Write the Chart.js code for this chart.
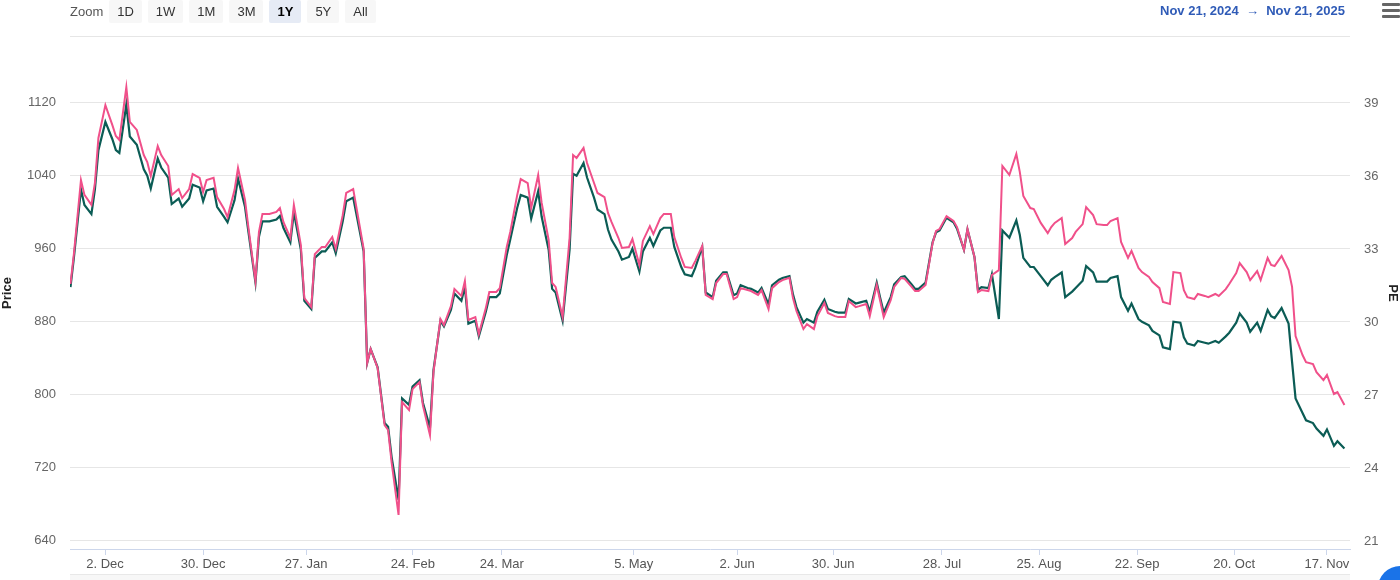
<!DOCTYPE html>
<html>
<head>
<meta charset="utf-8">
<script src="https://cdn.jsdelivr.net/npm/chart.js@4"></script>
<style>
  body { margin: 0; width: 1400px; height: 580px; overflow: hidden; background: #fff; font-family: "Liberation Sans", Arial, sans-serif; }
  #wrap { position: absolute; left: 0; top: 0; width: 1400px; height: 580px; }
  #bar { position: absolute; left: 70px; top: 0; font-size: 13px; color: #555; display: flex; align-items: center; }
  #bar .lbl { margin-right: 6px; }
  #bar .btn { background: #f7f7f7; border-radius: 2px; padding: 4px 8px; margin-right: 6px; color: #333; }
  #bar .sel { background: #e6ebf5; font-weight: bold; color: #000; }
  #range { position: absolute; right: 55px; top: 3px; font-size: 13px; font-weight: bold; color: #2f5bb7; }
  #menu { position: absolute; right: 0; top: 3px; width: 18px; }
  #menu div { height: 3px; background: #666; margin-bottom: 3px; border-radius: 1px; }
  #line { position: absolute; left: 70px; top: 36px; width: 1280px; height: 1px; background: #e6e6e6; }
  #nav { position: absolute; left: 70px; top: 574px; width: 1280px; height: 6px; background: #f7f7f7; border-top: 1px solid #e8e8e8; }
  #dot { position: absolute; left: 1378px; top: 566px; width: 44px; height: 44px; border-radius: 22px; background: #1a73e8; }
</style>
</head>
<body>
<div id="wrap"><canvas id="chart" width="1400" height="580"></canvas></div>
<div id="bar"><span class="lbl">Zoom</span><span class="btn">1D</span><span class="btn">1W</span><span class="btn">1M</span><span class="btn">3M</span><span class="btn sel">1Y</span><span class="btn">5Y</span><span class="btn">All</span></div>
<div id="range">Nov 21, 2024 &nbsp;→&nbsp; Nov 21, 2025</div>
<div id="menu"><div></div><div></div><div></div></div>
<div id="line"></div>
<div id="nav"></div>
<div id="dot"></div>
<script>
// session positions (x), price and PE
const sessions = [1,2,4,5,7,8,9,11,13,14,15,17,18,20,22,23,24,26,27,29,30,32,33,35,36,38,39,40,42,43,45,46,48,49,51,52,54,55,56,58,60,61,62,64,65,67,68,70,71,73,74,76,77,79,80,82,85,86,87,89,91,92,93,95,96,98,99,101,102,104,105,107,108,110,111,113,114,115,117,118,120,121,123,124,126,127,129,130,132,133,135,136,138,139,140,142,144,145,146,148,149,151,152,154,155,156,158,159,161,162,164,165,167,168,170,171,173,174,176,177,179,180,182,183,185,186,188,189,191,192,193,195,196,198,199,201,202,204,205,207,208,209,211,212,214,215,217,218,220,221,223,224,226,227,229,230,232,233,234,236,237,239,240,242,243,244,246,248,249,250,252,254,255,257,258,260,261,262,264,265,267,268,270,272,273,274,276,277,279,281,282,283,285,286,288,289,291,292,294,295,297,298,299,301,302,304,305,307,308,310,311,313,314,316,317,319,320,321,323,324,326,327,329,330,332,333,335,336,338,339,341,342,344,345,346,348,350,351,352,354,355,357,358,360,361,363,364,366]
const price = [918,951,1025,1008,998,1025,1068,1099,1080,1068,1065,1118,1083,1074,1047,1040,1026,1059,1049,1038,1009,1015,1006,1015,1030,1027,1012,1024,1026,1006,995,989,1013,1037,1006,978,923,973,990,990,992,996,983,967,1000,959,903,894,950,957,957,967,955,990,1012,1016,957,835,850,830,769,765,732,685,796,789,809,816,791,764,827,881,875,893,911,903,918,878,881,864,891,907,907,911,953,970,1005,1019,1016,993,1023,995,959,916,912,881,959,1042,1040,1054,1038,1016,1003,998,981,970,957,948,951,960,935,957,972,963,980,983,983,962,940,932,930,939,962,912,907,925,934,934,909,911,920,917,916,912,917,899,920,926,928,930,910,896,879,883,879,891,904,894,891,890,890,905,900,901,903,891,923,906,890,907,921,929,930,921,916,916,923,967,978,980,994,989,982,959,981,951,915,918,917,932,883,980,972,991,975,950,940,940,930,920,926,929,934,907,913,917,925,941,934,924,924,924,928,930,907,892,900,883,880,876,870,865,852,850,880,879,863,856,854,859,857,856,859,857,864,868,879,889,879,869,879,870,893,886,884,895,878,836,796,780,772,769,763,755,762,744,749,741]
const pe = [31.56,32.83,35.83,35.22,34.81,35.71,37.56,38.91,38.09,37.64,37.48,39.65,38.22,37.89,36.86,36.57,36.00,37.23,36.86,36.41,35.22,35.46,35.09,35.46,36.08,35.92,35.34,35.83,35.92,35.13,34.64,34.31,35.42,36.33,35.01,33.86,31.68,33.70,34.44,34.44,34.52,34.68,34.11,33.45,34.81,33.16,30.98,30.61,32.79,33.08,33.08,33.49,33.00,34.39,35.30,35.46,33.00,28.31,28.89,28.11,25.76,25.56,24.24,22.07,26.71,26.38,27.24,27.53,26.55,25.35,27.94,30.12,29.87,30.65,31.35,31.07,31.68,30.08,30.20,29.50,30.57,31.23,31.23,31.39,33.08,33.70,35.22,35.87,35.71,34.68,36.04,34.89,33.37,31.60,31.44,30.20,33.45,36.86,36.74,37.15,36.53,35.71,35.30,35.13,34.48,34.11,33.45,33.04,33.08,33.41,32.34,33.33,33.94,33.61,34.27,34.44,34.44,33.49,32.63,32.26,32.22,32.50,33.12,31.11,30.94,31.60,31.97,31.97,30.94,31.02,31.39,31.31,31.27,31.11,31.31,30.53,31.39,31.64,31.72,31.81,30.98,30.45,29.71,29.91,29.71,30.24,30.78,30.37,30.24,30.20,30.20,30.86,30.61,30.65,30.74,30.24,31.52,30.86,30.20,30.90,31.44,31.81,31.77,31.44,31.27,31.27,31.52,33.24,33.74,33.82,34.35,34.15,33.90,32.96,33.82,32.67,31.23,31.31,31.27,31.93,32.13,36.41,36.04,36.90,36.16,35.18,34.68,34.64,34.07,33.65,33.90,34.07,34.27,33.20,33.45,33.70,34.02,34.72,34.39,34.02,33.98,33.98,34.15,34.27,33.29,32.63,32.92,32.22,32.05,31.85,31.64,31.39,30.82,30.74,32.05,32.01,31.31,31.02,30.94,31.15,31.07,31.02,31.15,31.07,31.35,31.56,32.01,32.42,32.05,31.72,32.09,31.72,32.63,32.34,32.30,32.71,32.13,31.44,29.42,28.64,28.35,28.27,27.94,27.61,27.82,27.04,27.12,26.59]

const tickPos = [10.9, 39.0, 68.5, 99.1, 124.6, 162.4, 192.0, 219.5, 250.7, 278.5, 306.6, 334.4, 361.0]
const tickLabels = ['2. Dec', '30. Dec', '27. Jan', '24. Feb', '24. Mar', '5. May', '2. Jun', '30. Jun', '28. Jul', '25. Aug', '22. Sep', '20. Oct', '17. Nov']
const priceTicks = [640, 720, 800, 880, 960, 1040, 1120]
const peTicks = [21, 24, 27, 30, 33, 36, 39]

const font = { family: '"Liberation Sans", Arial, sans-serif', size: 13 }

let ctx = document.getElementById('chart')

new Chart(ctx, {
    type: 'line',
    data: {
        datasets: [
            {
                label: 'PE',
                data: sessions.map((s, i) => ({ x: s, y: pe[i] })),
                yAxisID: 'yPe',
                borderColor: '#f0508a',
                borderWidth: 2,
                pointRadius: 0,
                tension: 0
            },
            {
                label: 'Price',
                data: sessions.map((s, i) => ({ x: s, y: price[i] })),
                yAxisID: 'yPrice',
                borderColor: '#0b5c55',
                borderWidth: 2.2,
                pointRadius: 0,
                tension: 0
            }
        ]
    },
    options: {
        responsive: false,
        animation: false,
        layout: { padding: { top: 37, left: 0, right: 0, bottom: 0 } },
        plugins: { legend: { display: false }, tooltip: { enabled: false } },
        scales: {
            x: {
                type: 'linear',
                min: 0.86,
                max: 367.6,
                afterBuildTicks: s => { s.ticks = tickPos.map(v => ({ value: v })) },
                afterFit: s => { s.height = 31 },
                ticks: {
                    autoSkip: false,
                    maxRotation: 0,
                    color: '#555',
                    font: font,
                    padding: 2,
                    callback: (v, i) => tickLabels[i]
                },
                grid: { drawOnChartArea: false, color: '#ccd6eb', tickLength: 6 },
                border: { color: '#ccd6eb' }
            },
            yPrice: {
                position: 'left',
                min: 631,
                max: 1192,
                afterBuildTicks: s => { s.ticks = priceTicks.map(v => ({ value: v })) },
                afterFit: s => { s.width = 70 },
                title: { display: true, text: 'Price', color: '#222', font: { family: font.family, size: 13, weight: 'bold' }, padding: 0 },
                ticks: { color: '#666', font: font, padding: 14, callback: v => String(v) },
                grid: { color: '#e6e6e6', drawTicks: false },
                border: { display: false }
            },
            yPe: {
                position: 'right',
                min: 20.67,
                max: 41.71,
                afterBuildTicks: s => { s.ticks = peTicks.map(v => ({ value: v })) },
                afterFit: s => { s.width = 50 },
                title: { display: true, text: 'PE', color: '#222', font: { family: font.family, size: 13, weight: 'bold' }, padding: 0 },
                ticks: { color: '#666', font: font, padding: 14, callback: v => String(v) },
                grid: { drawOnChartArea: false, drawTicks: false },
                border: { display: false }
            }
        }
    }
});
</script>
</body>
</html>
